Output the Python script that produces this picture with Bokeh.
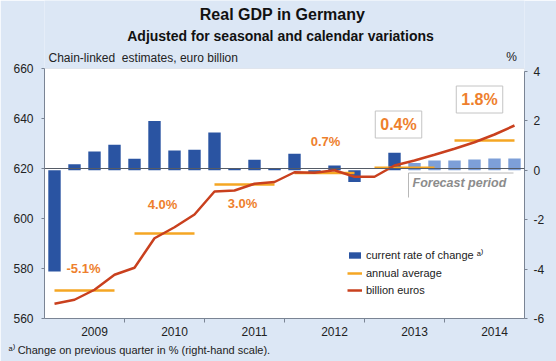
from bokeh.plotting import figure
from bokeh.models import (Range1d, LinearAxis, FixedTicker, Span, Label, Legend,
                          LegendItem, ColumnDataSource, BoxAnnotation, Title)
from bokeh.embed import file_html
from bokeh.resources import INLINE

# ---------------- data ----------------
years = ["2009", "2010", "2011", "2012", "2013", "2014"]
quarters = [f"{y} Q{q}" for y in years for q in (1, 2, 3, 4)]
gdp_bn = [565.9, 567.5, 571.5, 577.5,
          580.3, 592.1, 596.5, 601.6,
          610.8, 611.2, 613.9, 614.6,
          618.5, 618.3, 619.3, 616.7,
          616.7, 621.2, 623.2, 625.5,
          627.9, 630.5, 633.6, 637.2]
qoq_pct = [-4.1, 0.25, 0.76, 1.04,
           0.47, 2.0, 0.8, 0.83,
           1.53, 0.09, 0.43, 0.09,
           0.67, -0.09, 0.2, -0.47,
           0.0, 0.71, 0.3, 0.4,
           0.4, 0.44, 0.48, 0.48]
n_actual = 18          # quarters up to 2013 Q2 are outturns, rest forecast
annual_avg_bn = [571.2, 594.0, 613.6, 618.2, 620.3, 631.2]
annual_growth = ["-5.1%", "4.0%", "3.0%", "0.7%", "0.4%", "1.8%"]
left_ticks = [560, 580, 600, 620, 640, 660]
right_ticks = [-6, -4, -2, 0, 2, 4]
right_labels = {t: str(t) for t in right_ticks}

# ---------------- styling / positions ----------------
FONT = "Liberation Sans"
BG = "#dce7f5"
DARK_BAR = "#2a54a2"
LIGHT_BAR = "#7d9fd8"
AVG_COL = "#f5a623"
LINE_COL = "#c9401e"
LBL_COL = "#ee7f2d"
AXIS_COL = "#7a8494"
# growth-label anchors (x in quarters, y in bn euro), boxed flag, font size
growth_pos = [(1.95, 580.0, False, "13px"), (5.9, 605.6, False, "13px"),
              (9.9, 606.0, False, "13px"), (14.05, 630.8, False, "13px"),
              (17.7, 637.6, True, "16px"), (21.75, 647.6, True, "16px")]

x_centre = [i + 0.5 for i in range(len(quarters))]

# frame reaches the top of the canvas so the heading texts are inside it;
# the axes are bounded to the real value ranges
p = figure(width=556, height=361, x_range=Range1d(0, 24), y_range=Range1d(560, 687.2),
           output_backend="svg", toolbar_location=None, title=None,
           min_border_left=44, min_border_right=32, min_border_top=0, min_border_bottom=43,
           background_fill_color=BG, border_fill_color=BG, outline_line_color=None)
p.grid.visible = False
p.extra_y_ranges = {"pct": Range1d(-6, 6.88)}

p.add_layout(BoxAnnotation(left=0, right=24, bottom=560, top=660, fill_color="white",
                           fill_alpha=1, line_color="#c0c6d0", line_width=1, level="underlay"))

# bars
src_a = ColumnDataSource(dict(x=x_centre[:n_actual], top=qoq_pct[:n_actual]))
src_f = ColumnDataSource(dict(x=x_centre[n_actual:], top=qoq_pct[n_actual:]))
bars_a = p.vbar(x="x", top="top", bottom=0, width=0.62, source=src_a, y_range_name="pct",
                fill_color=DARK_BAR, line_color=None)
p.vbar(x="x", top="top", bottom=0, width=0.62, source=src_f, y_range_name="pct",
       fill_color=LIGHT_BAR, line_color=None)

p.add_layout(Span(location=620, dimension="width", line_color="#555b66", line_width=1))

# annual averages
avg_src = ColumnDataSource(dict(x0=[4 * k + 0.5 for k in range(len(years))],
                                x1=[4 * k + 3.5 for k in range(len(years))],
                                y=annual_avg_bn))
avg_r = p.segment(x0="x0", x1="x1", y0="y", y1="y", source=avg_src,
                  line_color=AVG_COL, line_width=2.5)

# GDP line
line_r = p.line(x_centre, gdp_bn, line_color=LINE_COL, line_width=2.5)

# forecast bracket
fc_x = [23.45, 18.2, 18.2]
fc_y = [618.2, 618.2, 608.4]
p.line(fc_x, fc_y, line_color="#b8b8b8", line_width=1)
p.add_layout(Label(x=18.4, y=614.3, text="Forecast period", text_font=FONT,
                   text_font_size="12.5px", text_font_style="bold italic",
                   text_color="#8c8c8c", text_baseline="middle"))

# growth labels
for txt, (gx, gy, boxed, fs) in zip(annual_growth, growth_pos):
    kw = dict(x=gx, y=gy, text=txt, text_font=FONT, text_font_size=fs, text_font_style="bold",
              text_color=LBL_COL, text_align="center", text_baseline="middle")
    if boxed:
        kw.update(background_fill_color="white", border_line_color="#c4c4c4", padding=5)
    p.add_layout(Label(**kw))

# axes
p.xaxis.ticker = FixedTicker(ticks=[4 * k + 2.5 for k in range(len(years))],
                             minor_ticks=[4, 8, 12, 16, 20])
p.xaxis.major_label_overrides = {4 * k + 2.5: y for k, y in enumerate(years)}
p.xaxis.major_tick_out = 0
p.xaxis.major_tick_in = 0
p.xaxis.minor_tick_out = 4
p.xaxis.minor_tick_in = 0
p.xaxis.major_label_standoff = 4

p.yaxis.ticker = FixedTicker(ticks=left_ticks)
p.yaxis.bounds = (560, 660)
p.yaxis.major_tick_out = 3
p.yaxis.major_tick_in = 0
p.yaxis.major_label_standoff = 8

ax_r = LinearAxis(y_range_name="pct", ticker=FixedTicker(ticks=right_ticks), bounds=(-6, 4))
ax_r.major_label_overrides = right_labels
ax_r.major_tick_out = 3
ax_r.major_tick_in = 0
ax_r.major_label_standoff = 6
p.add_layout(ax_r, "right")

for ax in [p.xaxis[0], p.yaxis[0], ax_r]:
    ax.axis_line_color = AXIS_COL
    ax.major_tick_line_color = AXIS_COL if ax is not p.xaxis[0] else None
    ax.minor_tick_line_color = AXIS_COL if ax is p.xaxis[0] else None
    ax.major_label_text_font = FONT
    ax.major_label_text_font_size = "12px"
    ax.major_label_text_color = "#222222"

# legend
legend = Legend(items=[LegendItem(label="current rate of change \u1d43\u207e", renderers=[bars_a]),
                       LegendItem(label="annual average", renderers=[avg_r]),
                       LegendItem(label="billion euros", renderers=[line_r])],
                location=(303, 22), border_line_color=None, background_fill_alpha=0,
                label_text_font=FONT, label_text_font_size="11px", label_text_color="#222222",
                glyph_width=15, glyph_height=8, label_height=12, spacing=5, padding=0,
                margin=0, label_standoff=4)
p.add_layout(legend)

# headings (inside the extended frame)
p.add_layout(Label(x=11.9, y=681.6, text="Real GDP in Germany", text_font=FONT,
                   text_font_size="16px", text_font_style="bold", text_color="#111111",
                   text_align="center", text_baseline="middle"))
p.add_layout(Label(x=11.8, y=673.2, text="Adjusted for seasonal and calendar variations",
                   text_font=FONT, text_font_size="14px", text_font_style="bold",
                   text_color="#111111", text_align="center", text_baseline="middle"))
p.add_layout(Label(x=0.2, y=664.4, text="Chain-linked\u00a0 estimates, euro billion",
                   text_font=FONT, text_font_size="12px", text_color="#222222",
                   text_baseline="middle"))
p.add_layout(Label(x=23.35, y=664.8, text="%", text_font=FONT, text_font_size="12px",
                   text_color="#222222", text_align="center", text_baseline="middle"))

# footnote below the x axis
p.add_layout(Title(text="\u1d43\u207e Change on previous quarter in % (right-hand scale).",
                   align="left", offset=-36, standoff=6, text_font=FONT,
                   text_font_size="11px", text_font_style="normal", text_color="#222222"),
             "below")

html = file_html(p, INLINE)
html = html.replace("<body>", '<body style="background-color:%s;">' % BG, 1)
open("out.html", "w").write(html)
